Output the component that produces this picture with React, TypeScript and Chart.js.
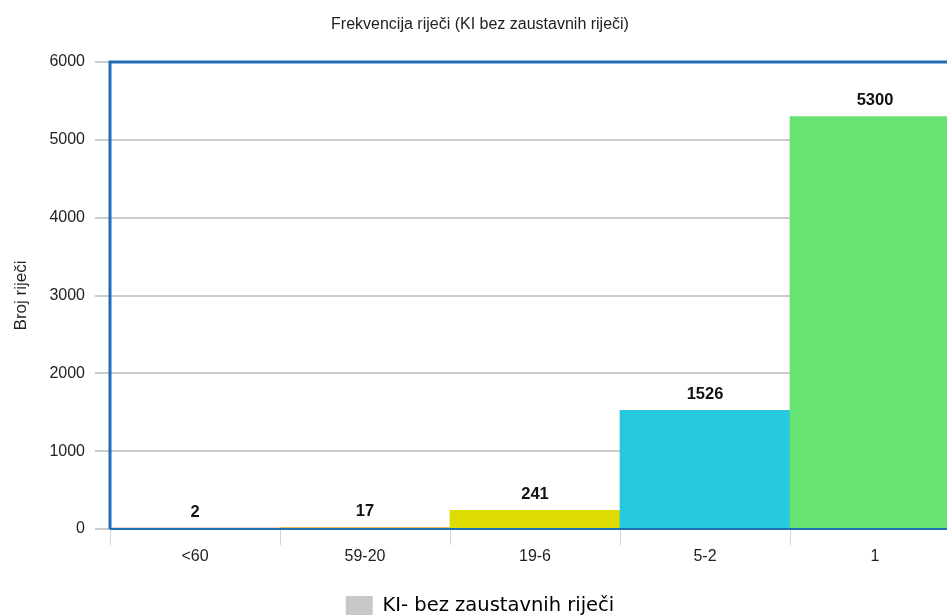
import { useEffect, useRef } from "react";
import { Chart, registerables } from "chart.js";
import type { Plugin } from "chart.js";

Chart.register(...registerables);

const naslov = "Frekvencija riječi (KI bez zaustavnih riječi)";
const nazivOsiY = "Broj riječi";
const nazivSerije = "KI- bez zaustavnih riječi";
const kategorije = ["<60", "59-20", "19-6", "5-2", "1"];
const brojRijeci = [2, 17, 241, 1526, 5300];
const bojeStupaca = ["#e8453c", "#f5a31a", "#dcdc00", "#26c8e0", "#66e373"];
const yTicks = [0, 1000, 2000, 3000, 4000, 5000, 6000];

const FONT = "'Liberation Sans', Arial, sans-serif";

// plavi okvir (lijevo, gore, dolje) preko stupaca
const okvir: Plugin<"bar"> = {
  id: "okvir",
  afterDatasetsDraw(chart) {
    const { ctx, chartArea: a } = chart;
    ctx.save();
    ctx.strokeStyle = "#1f6fb6";
    ctx.lineWidth = 2;
    ctx.beginPath();
    ctx.moveTo(a.left, a.bottom);
    ctx.lineTo(a.right, a.bottom);
    ctx.stroke();
    ctx.lineWidth = 3;
    ctx.beginPath();
    ctx.moveTo(a.left, a.bottom);
    ctx.lineTo(a.left, a.top);
    ctx.lineTo(a.right, a.top);
    ctx.stroke();
    ctx.restore();
  },
};

// vrijednosti iznad stupaca
const oznake: Plugin<"bar"> = {
  id: "oznake",
  afterDatasetsDraw(chart) {
    const { ctx } = chart;
    const meta = chart.getDatasetMeta(0);
    ctx.save();
    ctx.font = `bold 16.5px ${FONT}`;
    ctx.fillStyle = "#111";
    ctx.textAlign = "center";
    ctx.textBaseline = "middle";
    meta.data.forEach((bar, i) => {
      ctx.fillText(String(brojRijeci[i]), bar.x, bar.y - 16);
    });
    ctx.restore();
  },
};

export default function App() {
  const canvasRef = useRef<HTMLCanvasElement>(null);

  useEffect(() => {
    document.body.style.margin = "0";
    if (!canvasRef.current) return;

    const chart = new Chart(canvasRef.current, {
      type: "bar",
      data: {
        labels: kategorije,
        datasets: [
          {
            label: nazivSerije,
            data: brojRijeci,
            backgroundColor: bojeStupaca,
            borderWidth: 0,
            barPercentage: 1,
            categoryPercentage: 1,
          },
        ],
      },
      options: {
        animation: false,
        responsive: true,
        maintainAspectRatio: false,
        layout: { padding: 0 },
        plugins: {
          title: {
            display: true,
            text: naslov,
            color: "#222",
            font: { family: FONT, size: 16, weight: "normal" },
            padding: { top: 15, bottom: 27.8 },
          },
          legend: {
            position: "bottom",
            labels: {
              boxWidth: 27,
              boxHeight: 20,
              padding: 10,
              color: "#444",
              font: { family: "'DejaVu Sans', sans-serif", size: 19.5 },
              generateLabels: () => [
                {
                  text: nazivSerije,
                  fillStyle: "#c8c8c8",
                  strokeStyle: "#c8c8c8",
                  lineWidth: 0,
                  hidden: false,
                  datasetIndex: 0,
                },
              ],
            },
          },
          tooltip: { enabled: false },
        },
        scales: {
          x: {
            grid: {
              display: true,
              drawOnChartArea: false,
              drawTicks: true,
              tickLength: 16,
              color: "#cdd5dd",
              offset: true,
            },
            border: { display: false },
            ticks: { color: "#222", font: { family: FONT, size: 16 }, padding: 2 },
            afterFit: (s) => {
              s.height = 57;
            },
          },
          y: {
            min: yTicks[0],
            max: yTicks[yTicks.length - 1],
            ticks: {
              stepSize: yTicks[1] - yTicks[0],
              color: "#222",
              font: { family: FONT, size: 16 },
              padding: 10,
              callback: (v) => String(v),
            },
            grid: { color: "#cccccc", lineWidth: 2, tickLength: 15 },
            border: { display: false },
            title: {
              display: true,
              text: nazivOsiY,
              color: "#222",
              font: { family: FONT, size: 17 },
              padding: { top: 11, bottom: 0 },
            },
            afterFit: (s) => {
              s.width = 110;
            },
          },
        },
      },
      plugins: [okvir, oznake],
    });

    return () => {
      chart.destroy();
    };
  }, []);

  return (
    <div style={{ width: 947, height: 615, overflow: "hidden", background: "#fff" }}>
      <div style={{ width: 960, height: 626, position: "relative" }}>
        <canvas ref={canvasRef} />
      </div>
    </div>
  );
}
